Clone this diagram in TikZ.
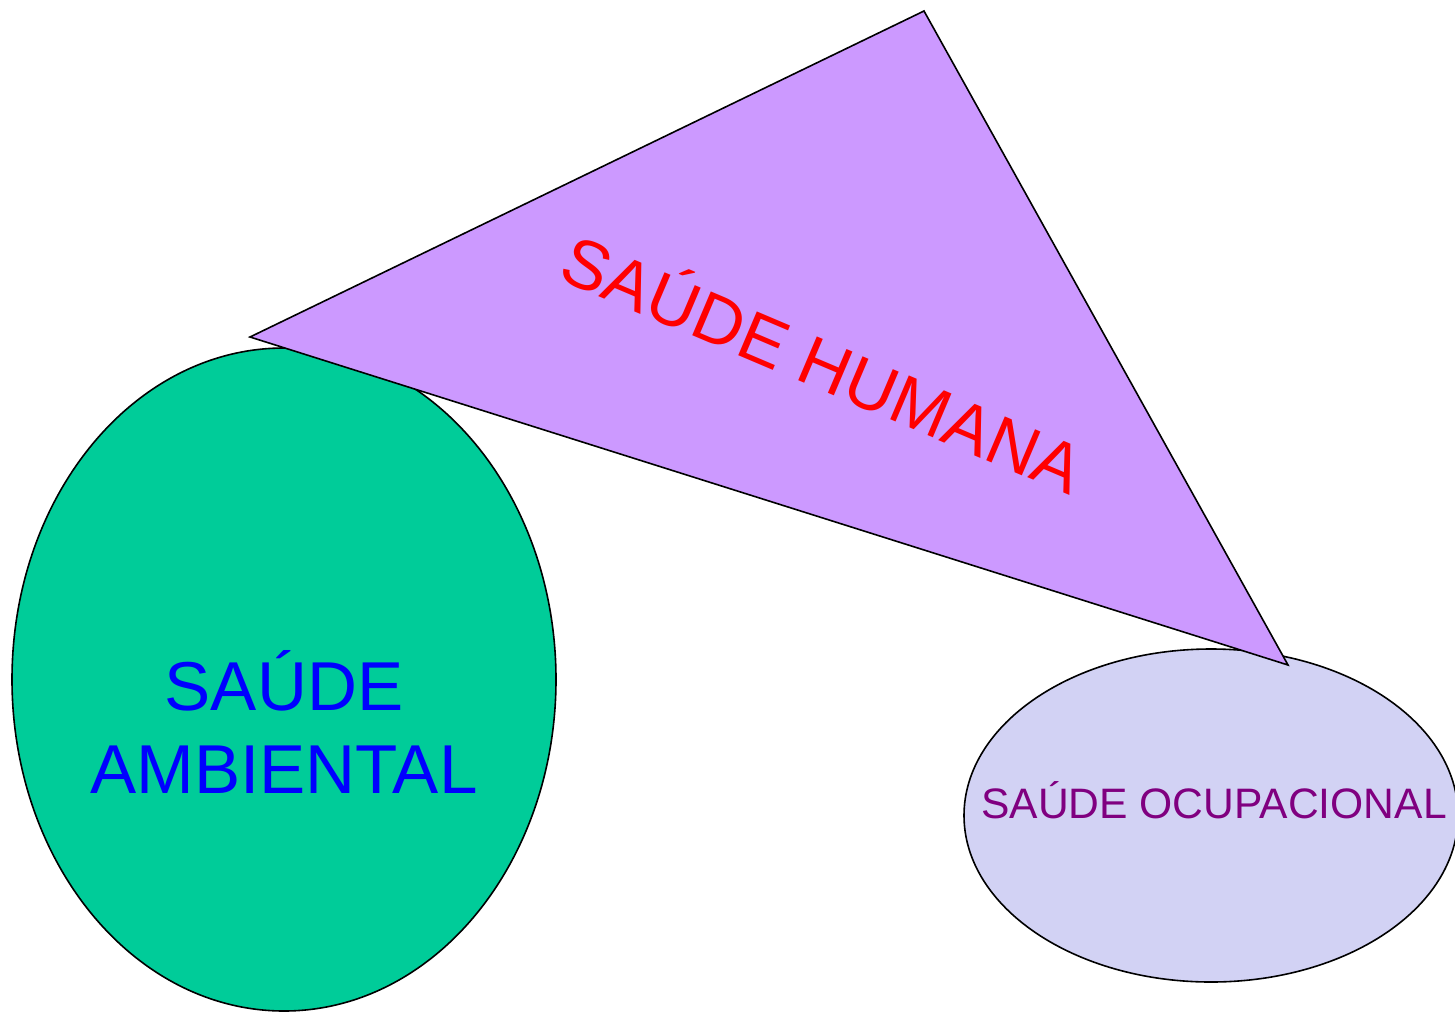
\documentclass[tikz,border=0pt]{standalone}
\usepackage{fontspec}
\setmainfont{Liberation Sans}
\definecolor{ambgreen}{HTML}{00CC99}
\definecolor{humpurple}{HTML}{CC99FF}
\definecolor{ocuplav}{HTML}{D2D2F4}
\definecolor{ocuptext}{HTML}{800080}
\begin{document}
\begin{tikzpicture}[x=0.5pt,y=-0.5pt,
  shapeline/.style={draw=black,line width=0.8pt},
  bigtext/.style={font=\fontsize{34.6}{41.3}\selectfont,align=center,inner sep=0pt}]
\useasboundingbox (0,0) rectangle (1455,1012);
% green ellipse
\filldraw[shapeline,fill=ambgreen] (284,679.5) ellipse [x radius=272, y radius=331.5];
% lavender ellipse
\filldraw[shapeline,fill=ocuplav] (1211,815.5) ellipse [x radius=247, y radius=166.5];
% triangle
\coordinate (tl) at (250,337);
\coordinate (tt) at (924,11);
\coordinate (tr) at (1288,665);
\filldraw[shapeline,fill=humpurple,line join=miter] (tl) -- (tt) -- (tr) -- cycle;
% texts
\node[bigtext,text=blue,anchor=base] (amb) at (284,793) {SAÚDE\\AMBIENTAL};
\node[bigtext,text=red,anchor=base,rotate=-23] (hum) at (813,387) {SAÚDE HUMANA};
\node[font=\fontsize{21.3}{25}\selectfont,text=ocuptext,anchor=base,inner sep=0pt] (ocu) at (1214,818) {SAÚDE OCUPACIONAL};
\end{tikzpicture}
\end{document}
